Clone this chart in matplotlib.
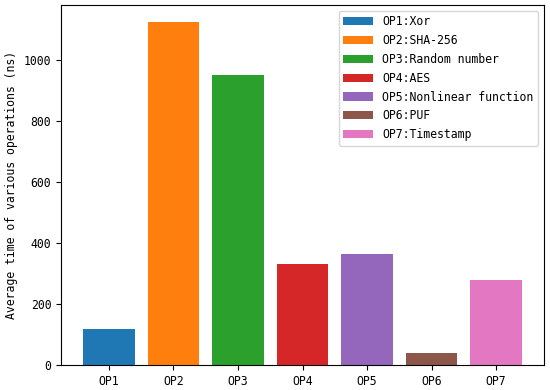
import matplotlib
matplotlib.use("Agg")
import matplotlib.pyplot as plt

categories = ["OP1", "OP2", "OP3", "OP4", "OP5", "OP6", "OP7"]
values = [117, 1123, 951, 330, 364, 40, 278]
labels = ["OP1:Xor", "OP2:SHA-256", "OP3:Random number", "OP4:AES",
          "OP5:Nonlinear function", "OP6:PUF", "OP7:Timestamp"]
colors = ["#1f77b4", "#ff7f0e", "#2ca02c", "#d62728", "#9467bd", "#8c564b", "#e377c2"]

plt.rcParams['font.family'] = ['DejaVu Sans Mono']
fs = 8.3

fig = plt.figure(figsize=(5.5, 3.9), dpi=100)
ax = fig.add_axes([0.111, 0.064, 0.878, 0.923])
bars = ax.bar(categories, values, color=colors, width=0.8, label=labels)
ax.set_ylabel("Average time of various operations (ns)", fontsize=fs)
ax.tick_params(labelsize=fs)
ax.legend(bars, labels, loc="upper right", fontsize=fs, handlelength=2.6)
fig.savefig("out.png", dpi=100)
